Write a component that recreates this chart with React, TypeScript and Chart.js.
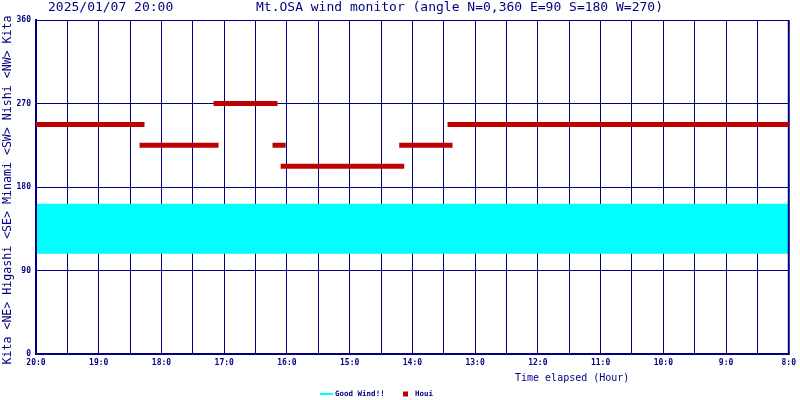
import React, { useEffect, useRef } from 'react';
import { Chart, registerables } from 'chart.js';

Chart.register(...registerables);

const NAVY = '#000080';
const RED = '#c00000';
const CYAN = '#00ffff';
const MONO = '"DejaVu Sans Mono", monospace';

// ---- text ----
const titleDate = '2025/01/07 20:00';
const titleMain = 'Mt.OSA wind monitor (angle N=0,360 E=90 S=180 W=270)';
const yAxisLabel = 'Kita <NE> Higashi <SE> Minami <SW> Nishi <NW> Kita';
const xAxisLabel = 'Time elapsed (Hour)';
const seriesLabels = ['Good Wind!!', 'Houi'];

// ---- axes ----
const yTicks = [0, 90, 180, 270, 360];
const hourTicks = [20, 19, 18, 17, 16, 15, 14, 13, 12, 11, 10, 9, 8];

// ---- Good Wind band (angle centre, time span) ----
const goodWindTime = [20, 8];
const goodWindAngle = [135, 135];

// ---- Houi (wind direction) segments, clock hour ----
const houiStart = [19.98, 18.31, 17.13, 16.19, 16.06, 14.17, 13.4];
const houiEnd = [18.31, 17.13, 16.19, 16.06, 14.17, 13.4, 8.02];
const houiAngle = [247.5, 225, 270, 225, 202.5, 225, 247.5];

function buildHoui() {
  const pts: { x: number; y: number | null }[] = [];
  houiStart.forEach((s, i) => {
    pts.push({ x: s, y: houiAngle[i] });
    pts.push({ x: houiEnd[i], y: houiAngle[i] });
    if (i < houiStart.length - 1) pts.push({ x: houiEnd[i], y: null });
  });
  return pts;
}

const decorPlugin = {
  id: 'decor',
  afterDatasetDraw(chart: any, args: any) {
    if (chart.data.datasets[args.index].label !== seriesLabels[0]) return;
    const { ctx, chartArea: a } = chart;
    ctx.save();
    ctx.strokeStyle = NAVY;
    ctx.lineWidth = 2;
    ctx.beginPath();
    ctx.moveTo(a.left, a.top);
    ctx.lineTo(a.left, a.bottom + 1);
    ctx.moveTo(a.left - 1, a.bottom);
    ctx.lineTo(a.right + 1, a.bottom);
    ctx.moveTo(a.right, a.top);
    ctx.lineTo(a.right, a.bottom);
    ctx.stroke();
    ctx.restore();
  },
  afterDraw(chart: any) {
    const { ctx, chartArea: a } = chart;
    ctx.save();
    ctx.fillStyle = NAVY;
    ctx.textBaseline = 'middle';
    ctx.textAlign = 'left';
    ctx.font = `13px ${MONO}`;
    ctx.fillText(titleDate, 48, 8);
    ctx.fillText(titleMain, 256, 8);

    ctx.font = `10px ${MONO}`;
    ctx.fillText(xAxisLabel, 515, 378);

    ctx.save();
    ctx.translate(8, (a.top + a.bottom) / 2 + 3);
    ctx.rotate(-Math.PI / 2);
    ctx.textAlign = 'center';
    ctx.font = `11.6px ${MONO}`;
    ctx.fillText(yAxisLabel, 0, 0);
    ctx.restore();

    // legend
    const ds = chart.data.datasets;
    ctx.font = `bold 7.5px ${MONO}`;
    ctx.strokeStyle = ds[0].borderColor;
    ctx.lineWidth = 2;
    ctx.beginPath();
    ctx.moveTo(320, 394);
    ctx.lineTo(333, 394);
    ctx.stroke();
    ctx.fillText(ds[0].label, 335, 394);
    ctx.fillStyle = ds[1].borderColor;
    ctx.fillRect(403, 391.5, 5, 5);
    ctx.fillStyle = NAVY;
    ctx.fillText(ds[1].label, 415, 394);
    ctx.restore();
  },
};

export default function App() {
  const ref = useRef<HTMLCanvasElement>(null);

  useEffect(() => {
    document.body.style.margin = '0';
    const canvas = ref.current;
    if (!canvas) return;
    const chart = new Chart(canvas, {
      type: 'line',
      data: {
        datasets: [
          {
            label: seriesLabels[0],
            data: goodWindTime.map((t, i) => ({ x: t, y: goodWindAngle[i] })),
            borderColor: CYAN,
            backgroundColor: CYAN,
            borderWidth: 50,
            borderCapStyle: 'butt',
            pointRadius: 0,
            pointStyle: 'line',
            order: 1,
            fill: false,
          } as any,
          {
            label: seriesLabels[1],
            data: buildHoui(),
            borderColor: RED,
            backgroundColor: RED,
            borderWidth: 5,
            borderCapStyle: 'square',
            pointRadius: 0,
            pointStyle: 'rect',
            spanGaps: false,
            order: 0,
            fill: false,
          } as any,
        ],
      },
      options: {
        responsive: false,
        animation: false,
        devicePixelRatio: 1,
        layout: { padding: { top: 20, right: 11, left: 0, bottom: 0 } },
        plugins: {
          legend: { display: false },
          title: { display: false },
          tooltip: { enabled: false },
        },
        scales: {
          x: {
            type: 'linear',
            min: 8,
            max: 20,
            reverse: true,
            grid: { color: NAVY, lineWidth: 1, drawTicks: false },
            border: { color: NAVY, width: 2 },
            ticks: {
              stepSize: 0.5,
              autoSkip: false,
              maxRotation: 0,
              padding: 4,
              color: NAVY,
              font: { family: MONO, size: 8, weight: 'bold' },
              callback: (v: any) => (hourTicks.includes(Number(v)) ? `${v}:0` : ''),
            },
            afterFit: (s: any) => {
              s.height = 46;
            },
          },
          y: {
            type: 'linear',
            min: 0,
            max: 360,
            grid: { color: NAVY, lineWidth: 1, drawTicks: false },
            border: { color: NAVY, width: 2 },
            afterBuildTicks: (s: any) => {
              s.ticks = yTicks.map((v) => ({ value: v }));
            },
            ticks: {
              padding: 5,
              color: NAVY,
              font: { family: MONO, size: 8, weight: 'bold' },
              callback: (v: any) => String(v),
            },
            afterFit: (s: any) => {
              s.width = 36;
            },
          },
        },
      } as any,
      plugins: [decorPlugin],
    });
    return () => chart.destroy();
  }, []);

  return (
    <div style={{ width: 800, height: 400, background: '#fff' }}>
      <canvas ref={ref} width={800} height={400} style={{ display: 'block' }} />
    </div>
  );
}
